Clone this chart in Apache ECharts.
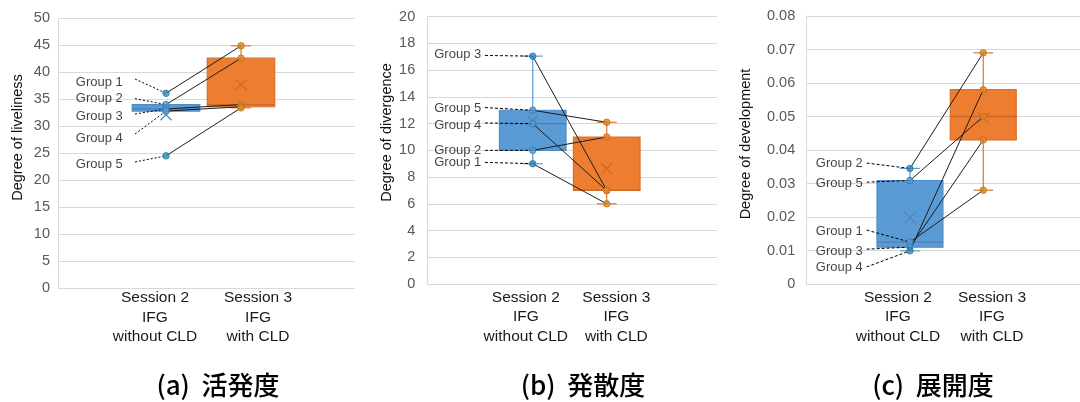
<!DOCTYPE html>
<html><head><meta charset="utf-8">
<script src="https://cdn.jsdelivr.net/npm/echarts@6/dist/echarts.min.js"></script>
<style>html,body{margin:0;padding:0;background:#fff}#c{width:1080px;height:402px}</style>
</head><body><div id="c"></div>
<script>
// ---------- data ----------
const groups = ['Group 1', 'Group 2', 'Group 3', 'Group 4', 'Group 5'];
const sessionLabels = ['Session 2\nIFG\nwithout CLD', 'Session 3\nIFG\nwith CLD'];
const livelinessS2 = [36.1, 34.0, 33.2, 32.8, 24.5];
const livelinessS3 = [44.9, 42.6, 34.0, 33.6, 33.4];
const divergenceS2 = [9, 10, 17.05, 12, 13];
const divergenceS3 = [6, 11, 7, 7, 12.1];
const developmentS2 = [0.0125, 0.0345, 0.011, 0.0099, 0.0309];
const developmentS3 = [0.028, 0.069, 0.043, 0.058, 0.050];
const livelinessAxis = [0, 50, 5];
const divergenceAxis = [0, 20, 2];
const developmentAxis = [0, 0.08, 0.01];
const yNames = ['Degree of liveliness', 'Degree of divergence', 'Degree of development'];
const captions = ['(a)  活発度', '(b)  発散度', '(c)  展開度'];

// ---------- layout ----------
const FONT = '"Liberation Sans", Arial, sans-serif';
const panels = [
  { s2: livelinessS2, s3: livelinessS3, axis: livelinessAxis,
    grid: {left: 58, top: 18.3, width: 297, height: 269.7}, xr: [-0.44, 3.52],
    labelX: [0.853, 2.227], labelMargin: 0, tickMargin: 8, fmt: v => String(v),
    nameXY: [18, 137.5], capX: 218,
    textPos: [[0.43, 38.2], [0.43, 35.2], [0.43, 31.9], [0.43, 27.8], [0.43, 23.0]],
    connPos: [[0.587, 38.75], [0.587, 35.1], [0.587, 32.26], [0.587, 28.55], [0.587, 23.36]],
    dash: [2, 2] },
  { s2: divergenceS2, s3: divergenceS3, axis: divergenceAxis,
    grid: {left: 427.7, top: 16.7, width: 289.3, height: 267.3}, xr: [-0.419, 3.49],
    labelX: [0.907, 2.13], labelMargin: 3.5, tickMargin: 12.5, fmt: v => String(v),
    nameXY: [386.7, 132.5], capX: 583,
    textPos: [[0.311, 9.1], [0.311, 10.03], [0.311, 17.19], [0.311, 11.9], [0.311, 13.17]],
    connPos: [[0.355, 9.1], [0.355, 10.0], [0.355, 17.1], [0.355, 12.05], [0.355, 13.2]],
    dash: [3, 2] },
  { s2: developmentS2, s3: developmentS3, axis: developmentAxis,
    grid: {left: 806.7, top: 16, width: 273.3, height: 268}, xr: [-0.409, 3.32],
    labelX: [0.836, 2.119], labelMargin: 3.5, tickMargin: 11.5, fmt: v => (v === 0 ? '0' : v.toFixed(2)),
    nameXY: [746.3, 144], capX: 933,
    textPos: [[0.363, 0.0157], [0.363, 0.0361], [0.363, 0.0098], [0.363, 0.005], [0.363, 0.0299]],
    connPos: [[0.409, 0.0161], [0.409, 0.0361], [0.409, 0.0104], [0.409, 0.0051], [0.409, 0.0304]],
    dash: [3, 2] }
];

const sty = [
  { fill: '#5B9BD5', edge: '#4E8CC8', median: '#4A7FB5', whisker: '#5B9BD5', mean: '#4F87C0', dot: '#3289BC', dotEdge: '#2A77A6' },
  { fill: '#ED7D31', edge: '#D9702A', median: '#C9692A', whisker: '#E0762E', mean: '#CC6A2C', dot: '#D88A1E', dotEdge: '#B87218' }
];

function qInc(s, p) {
  const pos = (s.length - 1) * p, lo = Math.floor(pos), hi = Math.ceil(pos);
  return s[lo] + (s[hi] - s[lo]) * (pos - lo);
}
function boxStats(vals, xPos) {
  const s = vals.slice().sort((a, b) => a - b);
  const q1 = qInc(s, 0.25), med = qInc(s, 0.5), q3 = qInc(s, 0.75), iqr = q3 - q1;
  const lo = s.filter(v => v >= q1 - 1.5 * iqr)[0];
  const hiArr = s.filter(v => v <= q3 + 1.5 * iqr);
  const hi = hiArr[hiArr.length - 1];
  const mean = s.reduce((a, b) => a + b, 0) / s.length;
  return [xPos, lo, q1, med, q3, hi, mean];
}

const grids = [], xAxes = [], yAxes = [], series = [], graphics = [];

panels.forEach((P, pi) => {
  grids.push(Object.assign({containLabel: false}, P.grid));
  xAxes.push({
    type: 'value', gridIndex: pi, min: P.xr[0], max: P.xr[1],
    axisLine: {show: false, onZero: false}, axisTick: {show: false}, splitLine: {show: false},
    axisLabel: {
      customValues: P.labelX, margin: P.labelMargin,
      formatter: (v) => sessionLabels[Math.abs(v - P.labelX[0]) < Math.abs(v - P.labelX[1]) ? 0 : 1],
      color: '#1a1a1a', fontSize: 15.5, lineHeight: 19.6, fontFamily: FONT
    }
  });
  yAxes.push({
    type: 'value', gridIndex: pi, min: P.axis[0], max: P.axis[1], interval: P.axis[2],
    axisLine: {show: true, onZero: false, lineStyle: {color: '#D9D9D9', width: 1}},
    axisTick: {show: false},
    splitLine: {show: true, lineStyle: {color: '#D9D9D9', width: 1}},
    axisLabel: {color: '#595959', fontSize: 14.5, margin: P.tickMargin, fontFamily: FONT, formatter: P.fmt}
  });

  // boxes
  series.push({
    type: 'custom', xAxisIndex: pi, yAxisIndex: pi, z: 2, clip: false, silent: true,
    data: [boxStats(P.s2, 1), boxStats(P.s3, 2)],
    encode: {x: 0, y: [1, 2, 3, 4, 5, 6]},
    renderItem: (params, api) => {
      const st = sty[params.dataIndex];
      const x = api.value(0);
      const pt = (i) => api.coord([x, api.value(i)]);
      const halfW = api.size([0.9, 0], [x, 0])[0] / 2;
      const capH = api.size([0.27, 0], [x, 0])[0] / 2;
      const pMin = pt(1), pQ1 = pt(2), pMed = pt(3), pQ3 = pt(4), pMax = pt(5), pMean = pt(6);
      const cx = pQ1[0];
      const ch = [];
      const wl = {stroke: st.whisker, lineWidth: 1.2};
      if (pMax[1] < pQ3[1] - 0.5) {
        ch.push({type: 'line', shape: {x1: cx, y1: pQ3[1], x2: cx, y2: pMax[1]}, style: wl});
        ch.push({type: 'line', shape: {x1: cx - capH, y1: pMax[1], x2: cx + capH, y2: pMax[1]}, style: wl});
      }
      if (pMin[1] > pQ1[1] + 0.5) {
        ch.push({type: 'line', shape: {x1: cx, y1: pQ1[1], x2: cx, y2: pMin[1]}, style: wl});
        ch.push({type: 'line', shape: {x1: cx - capH, y1: pMin[1], x2: cx + capH, y2: pMin[1]}, style: wl});
      }
      ch.push({type: 'rect', shape: {x: cx - halfW, y: pQ3[1], width: 2 * halfW, height: Math.max(pQ1[1] - pQ3[1], 1)},
        style: {fill: st.fill, stroke: st.edge, lineWidth: 1.2}});
      ch.push({type: 'line', shape: {x1: cx - halfW, y1: pMed[1], x2: cx + halfW, y2: pMed[1]}, style: {stroke: st.median, lineWidth: 1.3}});
      const m = 5.5;
      ch.push({type: 'line', shape: {x1: cx - m, y1: pMean[1] - m, x2: cx + m, y2: pMean[1] + m}, style: {stroke: st.mean, lineWidth: 1.3}});
      ch.push({type: 'line', shape: {x1: cx - m, y1: pMean[1] + m, x2: cx + m, y2: pMean[1] - m}, style: {stroke: st.mean, lineWidth: 1.3}});
      return {type: 'group', children: ch};
    }
  });

  // connecting lines between sessions
  groups.forEach((g, gi) => {
    series.push({
      type: 'line', xAxisIndex: pi, yAxisIndex: pi, z: 3, silent: true, showSymbol: false, symbol: 'none',
      data: [[1, P.s2[gi]], [2, P.s3[gi]]],
      lineStyle: {color: '#1c1c1c', width: 1}
    });
    // dashed label connector
    series.push({
      type: 'line', xAxisIndex: pi, yAxisIndex: pi, z: 3, silent: true, showSymbol: false, symbol: 'none',
      data: [P.connPos[gi], [1, P.s2[gi]]],
      lineStyle: {color: '#000', width: 1, type: P.dash}
    });
  });

  // dots
  [P.s2, P.s3].forEach((vals, si) => {
    const st = sty[si];
    const mn = Math.min(...vals), mx = Math.max(...vals);
    series.push({
      type: 'scatter', xAxisIndex: pi, yAxisIndex: pi, z: 4, silent: true, symbolSize: 6.5,
      data: vals.map(v => {
        const ends = (v === mn || v === mx);
        return {value: [si + 1, v], itemStyle: {color: ends ? st.dot : st.fill, borderColor: st.dotEdge, borderWidth: 1}};
      })
    });
  });

  // group labels
  series.push({
    type: 'scatter', xAxisIndex: pi, yAxisIndex: pi, z: 5, silent: true, symbolSize: 1,
    itemStyle: {color: 'rgba(0,0,0,0)'},
    data: groups.map((g, gi) => ({value: P.textPos[gi], name: g})),
    label: {show: true, position: 'left', distance: 0, formatter: (p) => p.name,
      color: '#111', fontSize: 13, fontFamily: FONT}
  });

  graphics.push({
    type: 'text', x: P.nameXY[0], y: P.nameXY[1], rotation: Math.PI / 2,
    style: {text: yNames[pi], fill: '#111', font: '14.5px ' + FONT, align: 'center', verticalAlign: 'middle'}
  });
  graphics.push({
    type: 'text', x: P.capX, y: 385,
    style: {text: captions[pi], fill: '#000', font: '500 26px "Noto Sans CJK JP", sans-serif', align: 'center', verticalAlign: 'middle'}
  });
});

const chart = echarts.init(document.getElementById('c'), null, {renderer: 'canvas'});
chart.setOption({
  animation: false,
  backgroundColor: '#fff',
  grid: grids, xAxis: xAxes, yAxis: yAxes, series: series, graphic: graphics
});
</script></body></html>
